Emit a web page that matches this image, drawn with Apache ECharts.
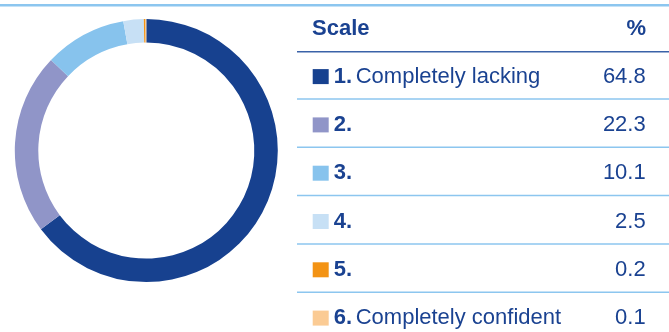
<!DOCTYPE html>
<html>
<head>
<meta charset="utf-8">
<script src="https://cdn.jsdelivr.net/npm/echarts@6/dist/echarts.min.js"></script>
<style>
  html, body { margin: 0; padding: 0; background: #fff; }
  #chart { width: 669px; height: 332px; }
</style>
</head>
<body>
<div id="chart"></div>
<script>
// scale points, labels and shares (%)
const scaleNums = ['1.', '2.', '3.', '4.', '5.', '6.']
const scaleLabels = ['Completely lacking', '', '', '', '', 'Completely confident']
const shares = [64.8, 22.3, 10.1, 2.5, 0.2, 0.1]
const sliceColors = ['#17418f', '#9095c8', '#87c3ed', '#c7e0f5', '#f39314', '#fbcb94']
const headers = ['Scale', '%']

const textColor = '#1a4291'
const font = "'Liberation Sans', Arial, sans-serif"
const rowPitch = 48.3
const firstRowMid = 76.6
const itemH = 22

const chart = echarts.init(document.getElementById('chart'))

// table rules: top band, header rule, row separators
const rules = [
  { type: 'line', shape: { x1: 0, y1: 5.3, x2: 669, y2: 5.3 }, style: { stroke: '#8cc6ef', lineWidth: 2.5 }, silent: true },
  { type: 'line', shape: { x1: 297, y1: 51.7, x2: 669, y2: 51.7 }, style: { stroke: '#3a62a8', lineWidth: 1.5 }, silent: true }
]
for (let i = 1; i < scaleNums.length; i++) {
  const y = 99 + (i - 1) * rowPitch
  rules.push({ type: 'line', shape: { x1: 297, y1: y, x2: 669, y2: y }, style: { stroke: '#8cc6ef', lineWidth: 1.5 }, silent: true })
}

chart.setOption({
  animation: false,
  title: {
    left: 312,
    top: 17.8,
    padding: 0,
    text: `{s|${headers[0]}}{p|${headers[1]}}`,
    textStyle: {
      rich: {
        s: { fontFamily: font, fontSize: 22, fontWeight: 'bold', color: textColor, width: 264, lineHeight: 22 },
        p: { fontFamily: font, fontSize: 22, fontWeight: 'bold', color: textColor, width: 70, align: 'right', lineHeight: 22 }
      }
    }
  },
  legend: {
    orient: 'vertical',
    left: 312.7,
    top: firstRowMid - itemH / 2,
    padding: 0,
    itemWidth: 16,
    itemHeight: 15,
    itemGap: rowPitch - itemH,
    icon: 'rect',
    selectedMode: false,
    data: scaleNums,
    formatter: (name) => {
      const i = scaleNums.indexOf(name)
      return `{n|${name}}{t|${scaleLabels[i] || ' '}}{v|${shares[i].toFixed(1)}}`
    },
    textStyle: {
      rich: {
        n: { fontFamily: font, fontSize: 22, fontWeight: 'bold', color: textColor, width: 22, lineHeight: itemH },
        t: { fontFamily: font, fontSize: 22, color: textColor, width: 220, lineHeight: itemH },
        v: { fontFamily: font, fontSize: 22, color: textColor, width: 70, align: 'right', lineHeight: itemH }
      }
    }
  },
  graphic: rules,
  series: [{
    type: 'pie',
    center: [146.3, 150.6],
    radius: [108, 131.5],
    startAngle: 90,
    clockwise: true,
    silent: true,
    label: { show: false },
    labelLine: { show: false },
    itemStyle: { borderWidth: 0 },
    data: scaleNums.map((n, i) => ({ name: n, value: shares[i], itemStyle: { color: sliceColors[i] } }))
  }]
})
</script>
</body>
</html>
